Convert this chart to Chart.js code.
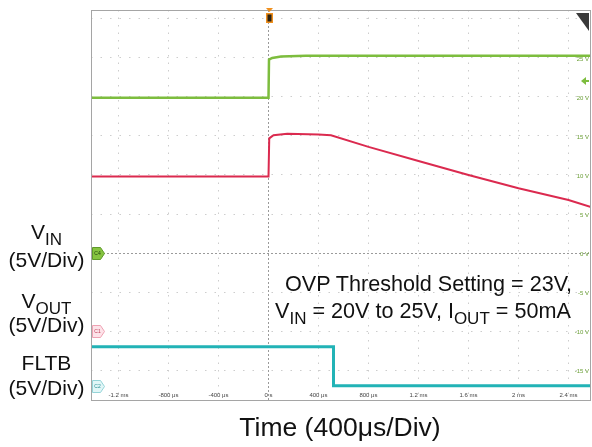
<!DOCTYPE html>
<html>
<head>
<meta charset="utf-8">
<style>
  html, body { margin: 0; padding: 0; background: #fff; overflow: hidden; }
  #wrap { position: relative; width: 592px; height: 447px; font-family: "Liberation Sans", Arial, sans-serif; color: #111; }
  canvas { position: absolute; left: 0; top: 0; }
  .lbl { position: absolute; font-size: 21px; line-height: 21px; white-space: nowrap; }
  .left { left: 0; width: 93px; text-align: center; }
  .note { font-size: 21.6px; line-height: 21.6px; }
  .sub { font-size: 17px; position: relative; top: 6px; }
</style>
<script src="https://cdn.jsdelivr.net/npm/chart.js@4.4.0/dist/chart.umd.min.js"></script>
</head>
<body>
<div id="wrap">
  <canvas id="chart" width="592" height="447"></canvas>
  <div class="lbl left" style="top:221px">V<span class="sub">IN</span></div>
  <div class="lbl left" style="top:249px">(5V/Div)</div>
  <div class="lbl left" style="top:290px">V<span class="sub">OUT</span></div>
  <div class="lbl left" style="top:314px">(5V/Div)</div>
  <div class="lbl left" style="top:352px">FLTB</div>
  <div class="lbl left" style="top:377px">(5V/Div)</div>
  <div class="lbl note" style="left:285px;top:273px">OVP Threshold Setting = 23V,</div>
  <div class="lbl note" style="left:275px;top:300px">V<span class="sub">IN</span> = 20V to 25V, I<span class="sub">OUT</span> = 50mA</div>
  <div class="lbl" style="left:140px;width:400px;text-align:center;top:414px;font-size:26.5px;line-height:26.5px">Time (400μs/Div)</div>
</div>
<script>
  // time in ms, values in screen volts (5 V per division, channel offsets included)
  const vinTime   = [-1.42, 0, 0.004, 0.03, 0.1, 0.3, 2.58];
  const vinVolts  = [19.9, 19.9, 24.8, 25.0, 25.2, 25.3, 25.3];
  const voutTime  = [-1.42, 0, 0.006, 0.04, 0.15, 0.4, 0.5, 0.8, 1.2, 1.6, 2.0, 2.4, 2.58];
  const voutVolts = [9.8, 9.8, 14.7, 15.1, 15.3, 15.2, 15.1, 13.6, 11.8, 10.0, 8.3, 6.8, 5.9];
  const fltbTime  = [-1.42, 0.52, 0.52, 2.58];
  const fltbVolts = [-12.0, -12.0, -17.0, -17.0];

  const xTickValues = [-1.2, -0.8, -0.4, 0, 0.4, 0.8, 1.2, 1.6, 2.0, 2.4];
  const xTickLabels = ['-1.2 ms', '-800 μs', '-400 μs', '0 s', '400 μs', '800 μs', '1.2 ms', '1.6 ms', '2 ms', '2.4 ms'];
  const yTickValues = [-15, -10, -5, 0, 5, 10, 15, 20, 25, 30];
  const yTickLabels = ['-15 V', '-10 V', '-5 V', '0 V', '5 V', '10 V', '15 V', '20 V', '25 V', ''];

  const channelTags   = ['C4', 'C1', 'C2'];
  const channelGround = [0, -10, -17.1];
  const triggerLevel  = 22.05;

  const GREEN = '#7dbd3e', RED = '#db2a4f', CYAN = '#22b3b6';

  function pts(xs, ys) { return xs.map((t, i) => ({ x: t, y: ys[i] })); }

  const scopeDecor = {
    id: 'scopeDecor',
    afterDraw(chart) {
      const { ctx, chartArea: a, scales: { x, y } } = chart;
      ctx.save();

      // frame
      ctx.strokeStyle = '#a5a5a5';
      ctx.lineWidth = 1;
      ctx.strokeRect(a.left + 0.5, a.top + 0.5, a.width - 1, a.height - 1);

      // tiny time labels inside the bottom edge
      ctx.font = '6px "Liberation Sans", Arial, sans-serif';
      ctx.fillStyle = '#444';
      ctx.textAlign = 'center';
      ctx.textBaseline = 'middle';
      xTickValues.forEach((v, i) => ctx.fillText(xTickLabels[i], x.getPixelForValue(v), a.bottom - 6));

      // volt labels on the right edge
      ctx.fillStyle = '#6a9f35';
      ctx.textAlign = 'right';
      yTickValues.forEach((v, i) => {
        if (yTickLabels[i]) ctx.fillText(yTickLabels[i], a.right - 2, y.getPixelForValue(v) + 1);
      });

      // channel ground tags
      const tagStyle = [
        { fill: '#86c440', stroke: '#5f9a2a', text: '#1d3a0a' },
        { fill: '#fde3e9', stroke: '#eea2b3', text: '#c0405a' },
        { fill: '#e1f6f7', stroke: '#95d4d8', text: '#2a8f94' }
      ];
      channelTags.forEach((tag, i) => {
        const yp = Math.round(y.getPixelForValue(channelGround[i])) + 0.5;
        const x0 = a.left + 1.5, w = 12, h = 12, s = tagStyle[i];
        ctx.beginPath();
        ctx.moveTo(x0, yp - h / 2);
        ctx.lineTo(x0 + w - 4, yp - h / 2);
        ctx.lineTo(x0 + w, yp);
        ctx.lineTo(x0 + w - 4, yp + h / 2);
        ctx.lineTo(x0, yp + h / 2);
        ctx.closePath();
        ctx.fillStyle = s.fill;
        ctx.fill();
        ctx.strokeStyle = s.stroke;
        ctx.stroke();
        ctx.fillStyle = s.text;
        ctx.textAlign = 'center';
        ctx.font = '5px "Liberation Sans", Arial, sans-serif';
        ctx.fillText(tag, x0 + 5, yp);
      });

      // trigger position marker
      const tx = Math.round(x.getPixelForValue(0)) + 0.5;
      ctx.fillStyle = '#f0901e';
      ctx.beginPath();
      ctx.moveTo(tx - 3.5, a.top - 2);
      ctx.lineTo(tx + 3.5, a.top - 2);
      ctx.lineTo(tx, a.top + 2);
      ctx.closePath();
      ctx.fill();
      ctx.fillRect(tx - 3.5, a.top + 3, 7, 10);
      ctx.fillStyle = '#2b2214';
      ctx.fillRect(tx - 2, a.top + 4.5, 4, 7);

      // trigger level arrow
      const ty = y.getPixelForValue(triggerLevel);
      ctx.fillStyle = GREEN;
      ctx.beginPath();
      ctx.moveTo(a.right - 10, ty);
      ctx.lineTo(a.right - 5, ty - 4);
      ctx.lineTo(a.right - 5, ty + 4);
      ctx.closePath();
      ctx.fill();
      ctx.fillRect(a.right - 6, ty - 1, 4, 2);

      // corner badge
      ctx.fillStyle = '#3a3a3a';
      ctx.beginPath();
      ctx.moveTo(a.right - 15, a.top + 3);
      ctx.lineTo(a.right - 2, a.top + 3);
      ctx.lineTo(a.right - 2, a.top + 21);
      ctx.closePath();
      ctx.fill();

      ctx.restore();
    }
  };

  new Chart(document.getElementById('chart'), {
    type: 'line',
    data: {
      datasets: [
        { label: 'FLTB', data: pts(fltbTime, fltbVolts), borderColor: CYAN, borderWidth: 3 },
        { label: 'VOUT', data: pts(voutTime, voutVolts), borderColor: RED, borderWidth: 2 },
        { label: 'VIN', data: pts(vinTime, vinVolts), borderColor: GREEN, borderWidth: 2.5 }
      ]
    },
    options: {
      responsive: false,
      devicePixelRatio: 1,
      animation: false,
      layout: { padding: { left: 91, top: 10, right: 1, bottom: 46 } },
      elements: { point: { radius: 0 }, line: { tension: 0 } },
      plugins: { legend: { display: false }, tooltip: { enabled: false } },
      scales: {
        x: {
          type: 'linear', min: -1.42, max: 2.58,
          afterBuildTicks: s => { s.ticks = xTickValues.map(v => ({ value: v })); },
          ticks: { display: false },
          grid: { drawTicks: false, color: c => c.tick && c.tick.value === 0 ? '#9a9a9a' : '#cdcdcd' },
          border: { display: false, dash: c => c.tick && c.tick.value === 0 ? [2, 2] : [1.5, 6] }
        },
        y: {
          type: 'linear', min: -18.97, max: 31.15,
          afterBuildTicks: s => { s.ticks = yTickValues.map(v => ({ value: v })); },
          ticks: { display: false },
          grid: { drawTicks: false, color: c => c.tick && c.tick.value === 0 ? '#9a9a9a' : '#cdcdcd' },
          border: { display: false, dash: c => c.tick && c.tick.value === 0 ? [2, 2] : [1.5, 8] }
        }
      }
    },
    plugins: [scopeDecor]
  });
</script>
</body>
</html>
